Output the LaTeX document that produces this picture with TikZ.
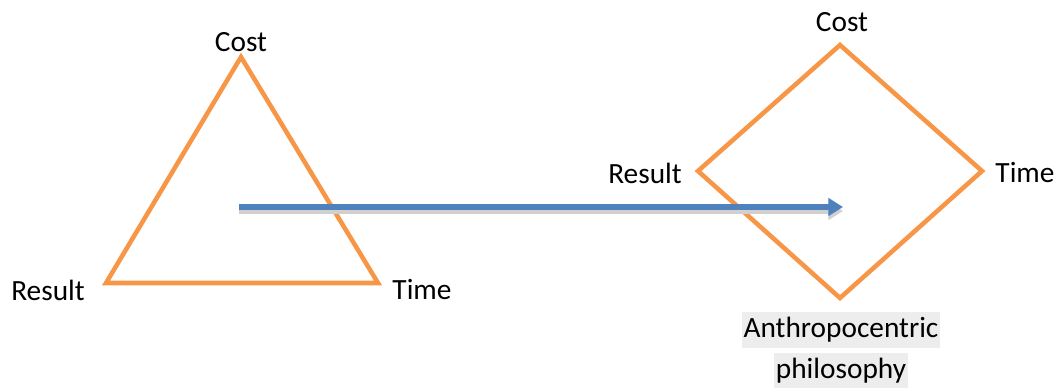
\documentclass[tikz,border=0pt]{standalone}
\usepackage{fontspec}
\setmainfont{Carlito}
\usetikzlibrary{arrows.meta}
\definecolor{orng}{HTML}{F79646}
\definecolor{blu}{HTML}{4F81BD}
\definecolor{shd}{HTML}{D0D0D0}
\definecolor{hl}{HTML}{EDEDED}
\tikzset{
  outline/.style={draw=orng, line width=3.4pt, line join=miter},
  lbl/.style={font=\fontsize{22}{26}\selectfont, inner sep=0pt},
  hlbox/.style={lbl, fill=hl, text height=15.5pt, text depth=5pt, inner xsep=1.5pt, inner ysep=3pt},
}
\begin{document}
\begin{tikzpicture}[x=0.75pt,y=-0.75pt]
\useasboundingbox (0,0) rectangle (1058,387);
% triangle
\coordinate (tc) at (241,57);
\coordinate (tl) at (106,283);
\coordinate (tr) at (378,283);
\draw[outline] (tc) -- (tl) -- (tr) -- cycle;
% diamond
\coordinate (dc) at (840,45);
\coordinate (dl) at (698,171);
\coordinate (dr) at (982,171);
\coordinate (db) at (840,298);
\draw[outline] (dc) -- (dl) -- (db) -- (dr) -- cycle;
% labels
\node[lbl] (l1) at (241,42) {Cost};
\node[lbl] (l2) at (48,290) {Result};
\node[lbl] (l3) at (422,290) {Time};
\node[lbl] (l4) at (842,22) {Cost};
\node[lbl] (l5) at (645,173) {Result};
\node[lbl] (l6) at (1025,173) {Time};
\node[hlbox] (l7) at (841,330) {Anthropocentric};
\node[hlbox] (l8) at (841,371) {philosophy};
% arrow
\coordinate (as) at (239,207);
\coordinate (ae) at (843,207);
\coordinate (ass) at (239,211);
\coordinate (aes) at (843,211);
\draw[shd, line width=3.8pt, -{Triangle[length=11pt,width=13pt]}] (ass) -- (aes);
\draw[blu, line width=3.8pt, -{Triangle[length=11pt,width=13pt]}] (as) -- (ae);
\end{tikzpicture}
\end{document}
